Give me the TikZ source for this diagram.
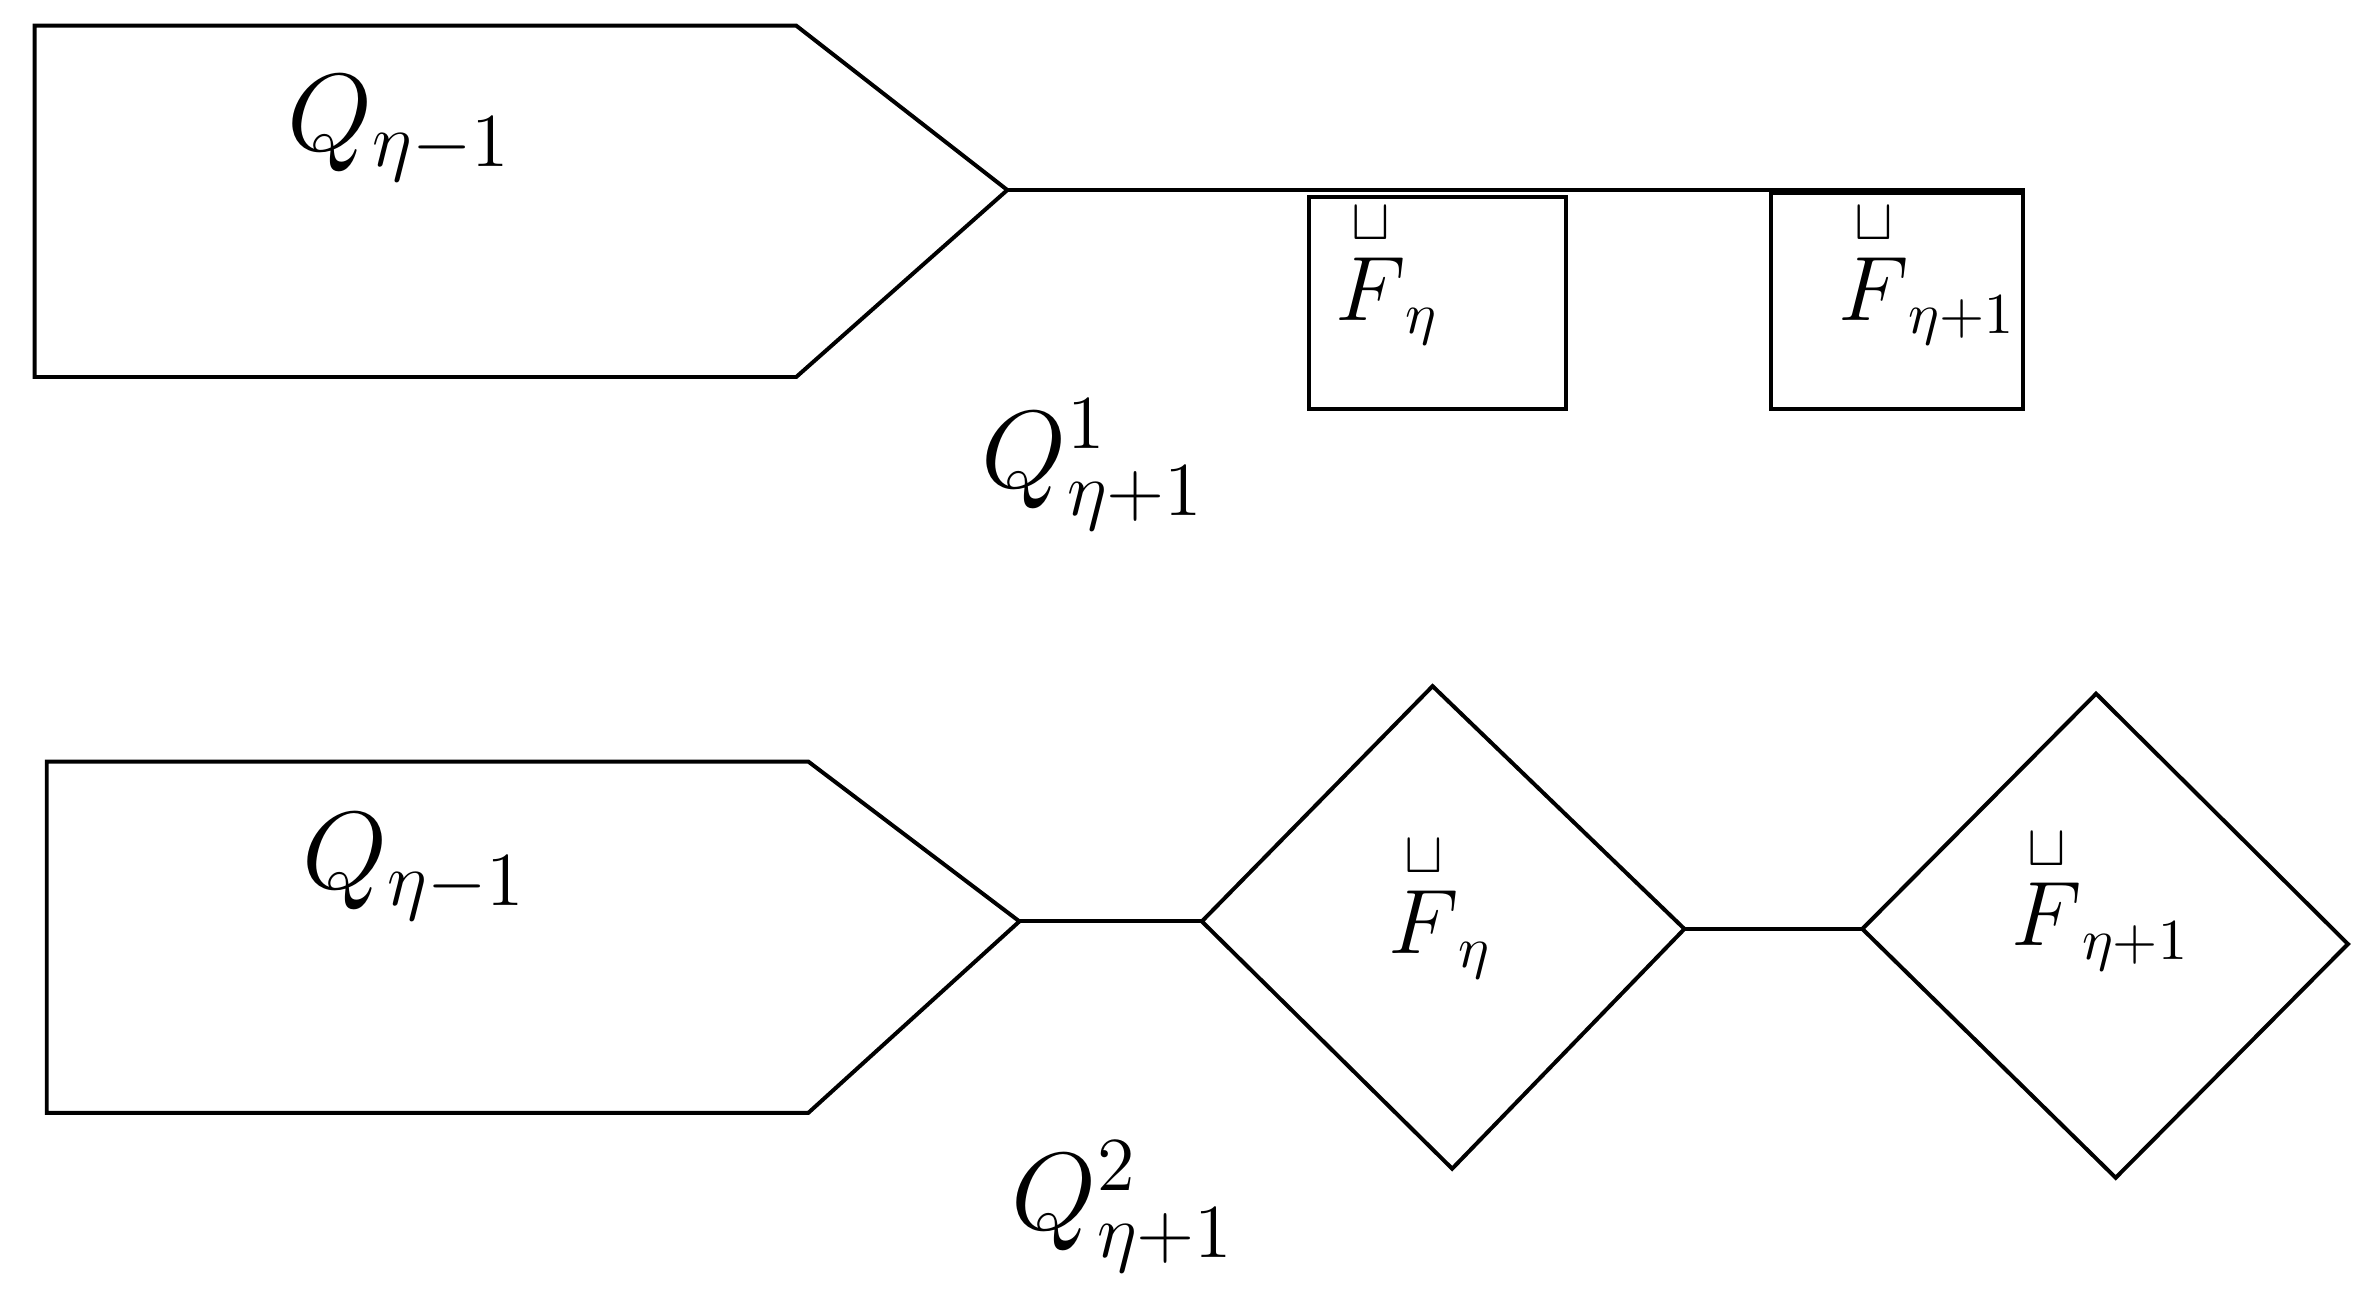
\documentclass[tikz,border=0pt]{standalone}
\usepackage{amsmath}
\begin{document}
\begin{tikzpicture}[x=0.1mm,y=-0.1mm,line width=0.75pt,
  lab/.style={inner sep=0pt},
  big/.style={lab,font=\fontsize{21}{25}\selectfont},
  fl/.style={lab,font=\fontsize{16}{19}\selectfont}]
\useasboundingbox (0,0) rectangle (1565,859);
% top
\draw (23,17) -- (528,17) -- (668,126) coordinate (t1) -- (528,250) -- (23,250) -- cycle;
\coordinate (t2) at (1343,126);
\draw (t1) -- (t2);
\node[draw,minimum width=170*0.1mm,minimum height=141*0.1mm,anchor=north west] (s1) at (867,129) {};
\node[draw,minimum width=167*0.1mm,minimum height=143*0.1mm,anchor=north west] (s2) at (1173,127) {};
\node[big] (q1) at (265,85) {$Q_{\eta-1}$};
\node[fl] (f1) at (920,180) {$\overset{\sqcup}{F}_{\eta}$};
\node[fl] (f2) at (1278,180) {$\overset{\sqcup}{F}_{\eta+1}$};
\node[big] (q2) at (725,308) {$Q^{1}_{\eta+1}$};
% bottom
\draw (31,505) -- (536,505) -- (676,611) coordinate (b1) -- (536,738) -- (31,738) -- cycle;
\coordinate (d1l) at (797,611);
\coordinate (d1r) at (1117,616);
\coordinate (d2l) at (1235,616);
\draw (797,611) -- (950,455) -- (1117,616) -- (963,775) -- cycle;
\draw (1235,616) -- (1390,460) -- (1557,626) -- (1403,781) -- cycle;
\draw (b1) -- (d1l);
\draw (d1r) -- (d2l);
\node[big] (q3) at (275,575) {$Q_{\eta-1}$};
\node[fl] (f3) at (955,600) {$\overset{\sqcup}{F}_{\eta}$};
\node[fl] (f4) at (1393,595) {$\overset{\sqcup}{F}_{\eta+1}$};
\node[big] (q4) at (745,800) {$Q^{2}_{\eta+1}$};
\end{tikzpicture}
\end{document}
